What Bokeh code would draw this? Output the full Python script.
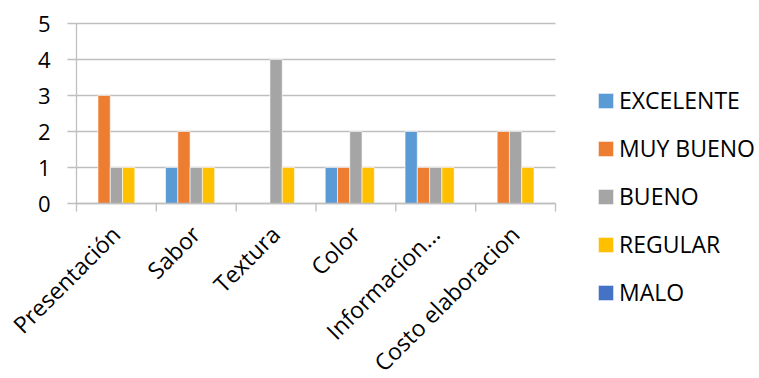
import math
from bokeh.plotting import figure
from bokeh.models import (Range1d, FixedTicker, Legend, LegendItem, ColumnDataSource, LabelSet)
from bokeh.core.properties import value
from bokeh.embed import file_html
from bokeh.resources import INLINE

categories = ["Presentación", "Sabor", "Textura", "Color", "Informacion...", "Costo elaboracion"]
series_names = ["EXCELENTE", "MUY BUENO", "BUENO", "REGULAR", "MALO"]
excelente = [0, 1, 0, 1, 2, 0]
muy_bueno = [3, 2, 0, 1, 1, 2]
bueno = [1, 1, 4, 2, 1, 2]
regular = [1, 1, 1, 1, 1, 1]
malo = [0, 0, 0, 0, 0, 0]
series_values = [excelente, muy_bueno, bueno, regular, malo]
colors = ["#5B9BD5", "#ED7D31", "#A5A5A5", "#FFC000", "#4472C4"]
y_ticks = [0, 1, 2, 3, 4, 5]

FONT = "Open Sans"
GRID = "#BFBFBF"
n_cat = len(categories)
n_ser = len(series_names)
bar_w = 1.0 / (n_ser + 1.5)
y_max = max(y_ticks)

# the frame covers the whole canvas; the chart area is x in [0, n_cat], y in [0, y_max]
px_per_x = 479 / n_cat
px_per_y = 180 / y_max
x_start = -76 / px_per_x
x_end = n_cat + 204 / px_per_x
y_start = -175 / px_per_y
y_end = y_max + 23 / px_per_y

p = figure(width=759, height=378, output_backend="svg", toolbar_location=None,
           x_range=Range1d(x_start, x_end), y_range=Range1d(y_start, y_end),
           x_axis_location=None,
           min_border_left=0, min_border_right=0, min_border_top=0, min_border_bottom=0)
p.outline_line_color = None
p.background_fill_color = "white"
p.border_fill_color = "white"
p.xgrid.visible = False
p.ygrid.visible = False

# horizontal gridlines limited to the chart area
p.segment(x0=[0] * len(y_ticks), x1=[n_cat] * len(y_ticks), y0=y_ticks, y1=y_ticks,
          line_color=GRID, line_width=1.3, level="underlay")

items = []
for j, (name, vals, col) in enumerate(zip(series_names, series_values, colors)):
    xs = [i + 0.5 + (j - (n_ser - 1) / 2) * bar_w for i in range(n_cat)]
    src = ColumnDataSource(dict(x=xs, top=vals))
    r = p.vbar(x="x", top="top", bottom=0, width=bar_w, source=src,
               fill_color=col, line_color="white", line_width=0.6)
    items.append(LegendItem(label=name, renderers=[r]))

# category axis: baseline at y = 0 and ticks on the category boundaries
tick_len = 8 / px_per_y
bounds_x = list(range(n_cat + 1))
p.segment(x0=bounds_x, x1=bounds_x, y0=[0] * len(bounds_x), y1=[-tick_len] * len(bounds_x),
          line_color=GRID, line_width=1.3)
p.segment(x0=[0], x1=[n_cat], y0=[0], y1=[0], line_color=GRID, line_width=1.3)

# category labels, rotated 45 degrees
lab_src = ColumnDataSource(dict(x=[i + 0.5 for i in range(n_cat)], y=[0] * n_cat, text=categories))
labels = LabelSet(x="x", y="y", text="text", source=lab_src, angle=math.pi / 4,
                  text_align="right", text_baseline="top", x_offset=-12, y_offset=-15,
                  text_font=value(FONT), text_font_size=value("23px"), text_color="#000000")
p.add_layout(labels)

# value axis at x = 0
ya = p.yaxis[0]
ya.fixed_location = 0
ya.bounds = (0, y_max)
ya.ticker = FixedTicker(ticks=y_ticks, minor_ticks=[])
ya.major_tick_out = 9
ya.major_tick_in = 0
ya.minor_tick_out = 0
ya.minor_tick_in = 0
ya.major_tick_line_color = GRID
ya.major_tick_line_width = 1.3
ya.axis_line_color = GRID
ya.axis_line_width = 1.3
ya.major_label_text_font = FONT
ya.major_label_text_font_size = "22px"
ya.major_label_text_color = "#000000"
ya.major_label_standoff = 17

legend = Legend(items=items, location=(596, 70), orientation="vertical",
                margin=0, padding=0, spacing=16, label_height=19,
                glyph_width=19, glyph_height=19, label_standoff=4,
                label_text_font=FONT, label_text_font_size="23px",
                label_text_color="#000000", border_line_color=None,
                background_fill_alpha=0)
p.add_layout(legend, "center")

open("out.html", "w").write(file_html(p, INLINE))
